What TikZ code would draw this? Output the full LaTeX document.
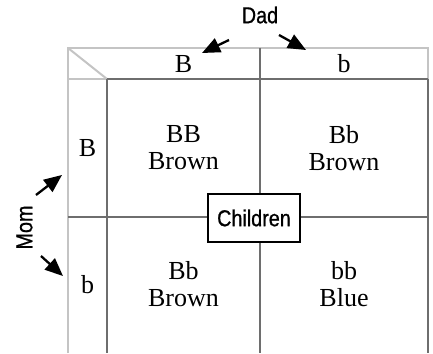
\documentclass[tikz,border=0pt]{standalone}
\usepackage{fontspec}
\setmainfont{Liberation Serif}
\setsansfont{Liberation Sans}
\newfontfamily\narrowsans[FakeStretch=0.86,FakeBold=0.8]{Liberation Sans}
\usetikzlibrary{arrows.meta}
\definecolor{lightgr}{HTML}{C4C4C4}
\definecolor{darkgr}{HTML}{6E6E6E}
\tikzset{
  lightline/.style={draw=lightgr, line width=2pt},
  darkline/.style={draw=darkgr, line width=2pt},
  celltext/.style={font=\fontsize{26}{27}\selectfont, align=center, inner sep=0pt},
  sidelabel/.style={font=\narrowsans\fontsize{23}{24}\selectfont, inner sep=0pt},
  pointer/.style={-{Triangle[length=18pt,width=15pt]}, line width=2.3pt, black},
  childbox/.style={draw=black, fill=white, line width=1.3pt, font=\narrowsans\fontsize{23}{24}\selectfont,
    minimum width=92pt, minimum height=48pt, inner sep=0pt}
}
\begin{document}
\begin{tikzpicture}[x=1pt,y=-1pt]
\useasboundingbox (0,0) rectangle (433,353);
% grid
\draw[lightline] (68,353) -- (68,48) -- (428,48) -- (428,79);
\draw[lightline] (68,79) -- (107,79);
\draw[lightline] (68,48) -- (107,79);
\draw[darkline] (107,79) -- (428,79);
\draw[darkline] (107,79) -- (107,353);
\draw[darkline] (260,48) -- (260,353);
\draw[darkline] (428,79) -- (428,353);
\draw[darkline] (68,217) -- (428,217);
% header labels
\node[celltext] (hB) at (183.5,64) {B};
\node[celltext] (hb) at (344,64) {b};
\node[celltext] (vB) at (87.5,148) {B};
\node[celltext] (vb) at (87.5,285) {b};
% cells
\node[celltext] (c11) at (183.5,148) {BB\\Brown};
\node[celltext] (c12) at (344,148) {Bb\\Brown};
\node[celltext] (c21) at (183.5,284) {Bb\\Brown};
\node[celltext] (c22) at (344,284) {bb\\Blue};
% children
\node[childbox] (children) at (254,218) {Children};
% Dad
\node[sidelabel] (dad) at (260,15) {Dad};
\coordinate (dadL0) at (229,40);
\coordinate (dadL1) at (202,53);
\coordinate (dadR0) at (279,35);
\coordinate (dadR1) at (306,50);
\draw[pointer] (dadL0) -- (dadL1);
\draw[pointer] (dadR0) -- (dadR1);
% Mom
\node[sidelabel, rotate=90] (mom) at (24.5,227.5) {Mom};
\coordinate (momU0) at (36,195);
\coordinate (momU1) at (62,175);
\coordinate (momD0) at (41,256);
\coordinate (momD1) at (63,276);
\draw[pointer] (momU0) -- (momU1);
\draw[pointer] (momD0) -- (momD1);
\end{tikzpicture}
\end{document}
